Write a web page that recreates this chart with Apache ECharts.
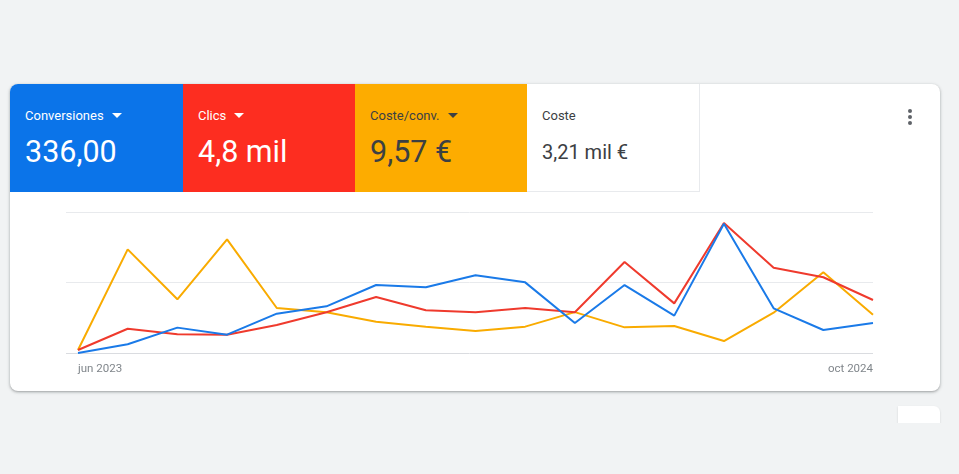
<!DOCTYPE html>
<html><head><meta charset="utf-8">
<script src="https://cdn.jsdelivr.net/npm/echarts@6/dist/echarts.min.js"></script>
<style>
html,body{margin:0;padding:0;width:959px;height:474px;background:#f1f3f4;overflow:hidden;font-family:Roboto,"Noto Sans",sans-serif;}
.card{position:absolute;left:10px;top:84px;width:930px;height:307px;background:#fff;border-radius:8px;box-shadow:0 1px 2px rgba(60,64,67,.3),0 1px 3px 1px rgba(60,64,67,.15);overflow:hidden;}
.tile{position:absolute;top:0;height:108px;}
.lab{position:absolute;left:15px;top:23px;font-size:13px;line-height:18px;white-space:nowrap;}
.val{position:absolute;left:15px;top:49px;font-size:30.5px;line-height:38px;white-space:nowrap;}
.tri{display:inline-block;width:0;height:0;border-left:5px solid transparent;border-right:5px solid transparent;border-top:5px solid currentColor;margin-left:8px;vertical-align:2px;}
.kebab{position:absolute;left:898px;top:25px;width:4px;}
.kebab span{display:block;width:4px;height:4px;border-radius:2px;background:#5f6368;margin-bottom:2px;}
#chart{position:absolute;left:0;top:108px;width:930px;height:199px;}
.mini{position:absolute;left:898px;top:406px;width:42px;height:30px;background:#fff;border-radius:0 6px 0 0;box-shadow:0 1px 2px rgba(60,64,67,.2);}
.cut{position:absolute;left:0;top:423px;width:959px;height:51px;background:#f1f3f4;}
</style></head>
<body>
<div class="card">
  <div class="tile" style="left:0;width:173px;background:#0b74e9;color:#fff;">
    <div class="lab">Conversiones<span class="tri"></span></div>
    <div class="val">336,00</div>
  </div>
  <div class="tile" style="left:173px;width:172px;background:#fd2d20;color:#fff;">
    <div class="lab">Clics<span class="tri"></span></div>
    <div class="val">4,8 mil</div>
  </div>
  <div class="tile" style="left:345px;width:172px;background:#fdac00;color:#3c4043;">
    <div class="lab">Coste/conv.<span class="tri"></span></div>
    <div class="val">9,57 €</div>
  </div>
  <div class="tile" style="left:517px;width:172px;background:#fff;color:#3c4043;border-right:1px solid #e8eaed;border-bottom:1px solid #e8eaed;height:107px;">
    <div class="lab">Coste</div>
    <div class="val" style="font-size:20px;top:49px;">3,21 mil €</div>
  </div>
  <div class="kebab"><span></span><span></span><span></span></div>
  <div id="chart"></div>
</div>
<div class="mini"></div>
<div class="cut"></div>
<script>
const months = ['jun 2023','jul 2023','ago 2023','sept 2023','oct 2023','nov 2023','dic 2023','ene 2024','feb 2024','mar 2024','abr 2024','may 2024','jun 2024','jul 2024','ago 2024','sept 2024','oct 2024'];
const conversiones = [0, 6.2, 18.0, 13.0, 27.9, 33.1, 48.2, 46.6, 55.1, 50.1, 21.3, 48.2, 26.5, 91.7, 31.7, 16.3, 21.3];
const clics = [2.1, 17.2, 13.3, 13.0, 19.9, 28.9, 39.7, 30.3, 28.9, 31.9, 28.9, 64.5, 35.2, 92.2, 60.5, 53.7, 37.6];
const costeConv = [2.1, 73.5, 38.1, 80.6, 31.9, 28.9, 22.2, 18.7, 15.6, 18.7, 29.0, 18.2, 19.1, 8.5, 28.6, 57.2, 27.2];

const chart = echarts.init(document.getElementById('chart'), null, {renderer:'canvas'});
const gridTop = 20, gridH = 141;
chart.setOption({
  animation:false,
  grid:[
    {left:56, right:67, top:gridTop, height:gridH},
    {left:68, right:67, top:gridTop, height:gridH}
  ],
  xAxis:[
    {gridIndex:0, type:'value', min:0, max:1, show:false},
    {gridIndex:1, type:'category', boundaryGap:false, data:months,
     axisLine:{show:false}, axisTick:{show:false},
     axisLabel:{color:'#80868b', fontSize:11.5, fontFamily:'Roboto', margin:10,
       interval:function(i){return i===0||i===months.length-1;},
       alignMinLabel:'left', alignMaxLabel:'right'}}
  ],
  yAxis:[
    {gridIndex:0, type:'value', min:0, max:100, interval:50,
     axisLabel:{show:false}, axisLine:{show:false}, axisTick:{show:false},
     splitLine:{lineStyle:{color:['#dadce0','#e8eaed','#e8eaed'], width:1}}},
    {gridIndex:1, type:'value', min:0, max:100, show:false, splitLine:{show:false}}
  ],
  series:[
    {name:'Coste/conv.', type:'line', xAxisIndex:1, yAxisIndex:1, data:costeConv, showSymbol:false, lineStyle:{color:'#f9ab00', width:2}, itemStyle:{color:'#f9ab00'}},
    {name:'Clics', type:'line', xAxisIndex:1, yAxisIndex:1, data:clics, showSymbol:false, lineStyle:{color:'#ef3a2d', width:2}, itemStyle:{color:'#ef3a2d'}},
    {name:'Conversiones', type:'line', xAxisIndex:1, yAxisIndex:1, data:conversiones, showSymbol:false, lineStyle:{color:'#1a7ae8', width:2}, itemStyle:{color:'#1a7ae8'}}
  ]
});
</script>
</body></html>
